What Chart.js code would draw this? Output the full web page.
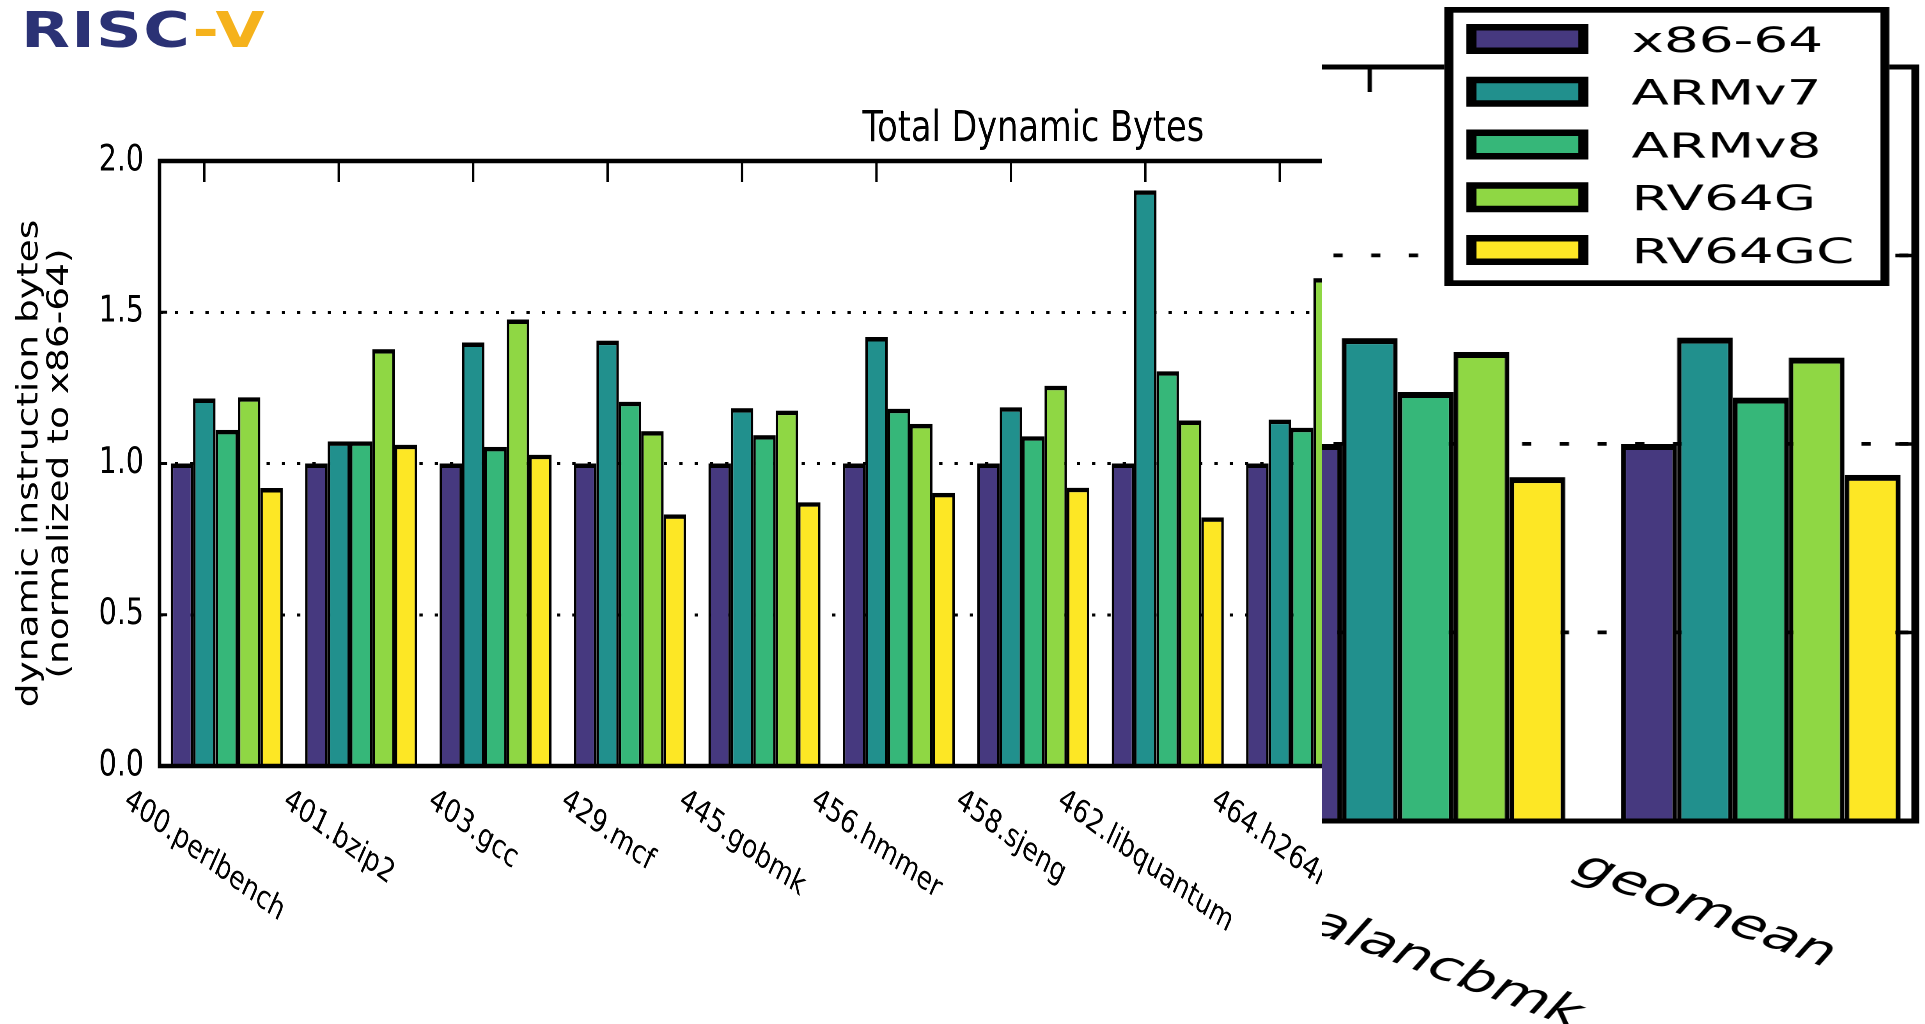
<!DOCTYPE html>
<html>
<head>
<meta charset="utf-8">
<script src="https://cdn.jsdelivr.net/npm/chart.js@4.4.0/dist/chart.umd.min.js"></script>
<style>
  html, body { margin: 0; padding: 0; background: #fff; }
  body { width: 1925px; height: 1024px; position: relative; overflow: hidden; }
  #logo { position: absolute; left: 21px; top: 5px; font: bold 50px "DejaVu Sans"; line-height: 50px;
          white-space: nowrap; transform-origin: 0 0; letter-spacing: 1px; }
  #logo .a { color: #2b3275; }
  #logo .b { color: #f5b21c; }
  #mainWrap { position: absolute; left: 0; top: 0; transform-origin: 0 0; }
  #insetClip { position: absolute; left: 1322px; top: 0; width: 603px; height: 1024px; overflow: hidden; background: #fff; }
  #insetWrap { position: absolute; top: 0; transform-origin: 0 0; }
</style>
</head>
<body>
<div id="mainWrap"><canvas id="mainChart"></canvas></div>
<div id="insetClip"><div id="insetWrap"><canvas id="insetChart"></canvas></div></div>
<div id="logo"><span class="a">RISC</span><span class="b">-V</span></div>

<script>
// data
const categories = ['400.perlbench', '401.bzip2', '403.gcc', '429.mcf', '445.gobmk', '456.hmmer',
  '458.sjeng', '462.libquantum', '464.h264ref', '471.omnetpp', '473.astar', '483.xalancbmk', 'geomean'];
const seriesNames = ['x86-64', 'ARMv7', 'ARMv8', 'RV64G', 'RV64GC'];
const x86    = [1.0, 1.0, 1.0, 1.0, 1.0, 1.0, 1.0, 1.0, 1.0, 1.0, 1.0, 1.0, 1.0];
const armv7  = [1.215, 1.073, 1.400, 1.406, 1.183, 1.418, 1.186, 1.903, 1.145, null, null, 1.281, 1.282];
const armv8  = [1.111, 1.073, 1.055, 1.204, 1.094, 1.181, 1.090, 1.305, 1.118, null, null, 1.138, 1.123];
const rv64g  = [1.219, 1.378, 1.476, 1.107, 1.175, 1.131, 1.257, 1.142, 1.613, null, null, 1.244, 1.229];
const rv64gc = [0.919, 1.062, 1.029, 0.832, 0.872, 0.903, 0.920, 0.822, null, null, null, 0.912, 0.918];
const yTicks = [0, 0.5, 1.0, 1.5, 2.0];
const chartTitle = 'Total Dynamic Bytes';
const yTitle = ['dynamic instruction bytes', '(normalized to x86-64)'];

const series = [x86, armv7, armv8, rv64g, rv64gc];
const colors = ['#46397f', '#21908d', '#36b779', '#8fd744', '#fde725'];

// the slide squeezes the main figure and stretches the zoomed copy
const sxMain = 0.78;
const sxInset = 1.565;

// main figure (un-squeezed px)
const mainLeft = 159.5 / sxMain;
const mainCat = 134.4 / sxMain;
const mainPadRight = 16;
const mainW = Math.ceil(mainLeft + categories.length * mainCat + mainPadRight);

// zoomed copy
const insetMin = 10.5, insetMax = 12.461;
const insetCat = 335 / sxInset;
const insetPadRight = 12;
const insetW = Math.ceil((insetMax - insetMin) * insetCat + insetPadRight);

function makeSets(bw) {
  return seriesNames.map((name, k) => ({
    label: name,
    data: series[k].map((v, i) => ({ x: i, y: v })),
    backgroundColor: colors[k],
    borderColor: '#000',
    borderWidth: bw,
    borderSkipped: 'start',
    barPercentage: 1,
    categoryPercentage: 5 / 6
  }));
}

function rotatedLabels(ctx, x, o) {
  ctx.font = o.labelSize + 'px "DejaVu Sans"';
  ctx.fillStyle = '#000';
  ctx.textAlign = 'center';
  ctx.textBaseline = 'middle';
  const th = o.labelAngle * Math.PI / 180;
  categories.forEach((c, i) => {
    const px = x.getPixelForValue(i - 1 / 6);
    const w = ctx.measureText(c).width;
    const h = o.labelSize * 1.17;
    const bh = w * Math.sin(th) + h * Math.cos(th);
    ctx.save();
    ctx.translate(px, o.labelTop + bh / 2);
    ctx.rotate(th);
    ctx.fillText(c, 0, 0);
    ctx.restore();
  });
}

function decor(o) {
  return {
    id: 'decor',
    afterDraw(chart) {
      const { ctx, chartArea: a, scales: { x, y } } = chart;
      ctx.save();
      ctx.strokeStyle = '#000';
      ctx.lineCap = 'butt';

      // ticks pointing into the axes
      ctx.lineWidth = o.topTickWidth;
      categories.forEach((c, i) => {
        const px = x.getPixelForValue(i - 1 / 6);
        if (px < a.left || px > a.right) return;
        ctx.beginPath();
        ctx.moveTo(px, a.top);
        ctx.lineTo(px, a.top + o.topTickLen);
        ctx.stroke();
      });
      ctx.lineWidth = o.yTickWidth;
      yTicks.slice(1, -1).forEach(v => {
        const py = y.getPixelForValue(v);
        ctx.beginPath();
        ctx.moveTo(a.left, py); ctx.lineTo(a.left + o.yTickLen, py);
        ctx.moveTo(a.right, py); ctx.lineTo(a.right - o.yTickLen, py);
        ctx.stroke();
      });

      ctx.lineWidth = o.frame;
      ctx.strokeRect(a.left, a.top, a.right - a.left, a.bottom - a.top);

      rotatedLabels(ctx, x, o);
      if (o.extra) o.extra(chart);
      ctx.restore();
    }
  };
}

function baseOptions(o) {
  return {
    responsive: false,
    devicePixelRatio: 2,
    animation: false,
    events: [],
    layout: { padding: o.padding },
    plugins: { legend: { display: false }, tooltip: { enabled: false }, title: { display: false } },
    scales: {
      x: {
        type: 'linear', min: o.xMin, max: o.xMax, offset: false, bounds: 'data', grace: 0,
        afterBuildTicks: s => {
          s.ticks = categories.map((c, i) => ({ value: i }));
          s.min = o.xMin;
          s.max = o.xMax;
        },
        ticks: { display: false },
        grid: { display: false },
        border: { display: false },
        afterFit: s => { s.height = 0; }
      },
      y: {
        min: 0, max: 2,
        afterBuildTicks: s => { s.ticks = yTicks.map(v => ({ value: v })); s.min = 0; s.max = 2; },
        ticks: {
          display: o.yLabels,
          callback: v => v.toFixed(1),
          font: { family: 'DejaVu Sans', size: 36.5 },
          color: '#000',
          padding: 20
        },
        grid: { color: '#000', lineWidth: o.gridWidth, drawTicks: false },
        border: { display: false, dash: o.dash },
        title: o.yTitle,
        afterFit: s => { s.width = o.yWidth; }
      }
    }
  };
}

// main chart
const mainCanvas = document.getElementById('mainChart');
mainCanvas.width = mainW;
mainCanvas.height = 1024;
document.getElementById('mainWrap').style.transform = `scaleX(${sxMain})`;

new Chart(mainCanvas, {
  type: 'bar',
  data: { datasets: makeSets({ top: 4.5, left: 3.2, right: 3.2, bottom: 0 }) },
  options: baseOptions({
    padding: { top: 161, bottom: 258, left: 0, right: mainPadRight },
    xMin: -0.5, xMax: categories.length - 0.5,
    yLabels: true, yWidth: mainLeft,
    gridWidth: 3, dash: [4.2, 15.4],
    yTitle: {
      display: true, text: yTitle, color: '#000',
      font: { family: 'DejaVu Sans', size: 37.5, lineHeight: 1.04 },
      padding: { top: 19, bottom: 0 }
    }
  }),
  plugins: [decor({
    topTickLen: 21, topTickWidth: 3, yTickLen: 10, yTickWidth: 3, frame: 4.5,
    labelSize: 32, labelAngle: 30, labelTop: 782,
    extra(chart) {
      const { ctx, chartArea: a } = chart;
      ctx.font = '43px "DejaVu Sans"';
      ctx.textAlign = 'center';
      ctx.textBaseline = 'alphabetic';
      ctx.fillText(chartTitle, (a.left + a.right) / 2, 141);
    }
  })]
});

// zoomed copy with the legend
const insetCanvas = document.getElementById('insetChart');
insetCanvas.width = insetW;
insetCanvas.height = 1024;
const insetWrap = document.getElementById('insetWrap');
insetWrap.style.left = (1258.1 - 1322) + 'px';
insetWrap.style.transform = `scaleX(${sxInset})`;

new Chart(insetCanvas, {
  type: 'bar',
  data: { datasets: makeSets({ top: 6, left: 3, right: 3, bottom: 0 }) },
  options: baseOptions({
    padding: { top: 67, bottom: 203, left: 0, right: insetPadRight },
    xMin: insetMin, xMax: insetMax,
    yLabels: false, yWidth: 0,
    gridWidth: 3.7, dash: [5.9, 18.2],
    yTitle: { display: false }
  }),
  plugins: [decor({
    topTickLen: 25, topTickWidth: 2.8, yTickLen: 12.8, yTickWidth: 3.5, frame: 5,
    labelSize: 40, labelAngle: 30, labelTop: 844,
    extra(chart) {
      const { ctx, chartArea: a } = chart;
      const right = a.right - 16.6, left = right - 284.3;
      const top = 7, bottom = 286, lw = 5.7;
      ctx.fillStyle = '#fff';
      ctx.fillRect(left, top, right - left, bottom - top);
      ctx.lineWidth = lw;
      ctx.strokeStyle = '#000';
      ctx.strokeRect(left + lw / 2, top + lw / 2, right - left - lw, bottom - top - lw);
      ctx.font = '35px "DejaVu Sans"';
      ctx.textAlign = 'left';
      ctx.textBaseline = 'alphabetic';
      seriesNames.forEach((name, k) => {
        const cy = 39 + k * 52.75;
        const sw = 6.5, sl = left + 14, swW = 78, swH = 30;
        ctx.fillStyle = colors[k];
        ctx.fillRect(sl + sw / 2, cy - swH / 2 + sw / 2, swW - sw, swH - sw);
        ctx.lineWidth = sw;
        ctx.strokeRect(sl + sw / 2, cy - swH / 2 + sw / 2, swW - sw, swH - sw);
        ctx.fillStyle = '#000';
        ctx.fillText(name, left + 119.5, cy + 35 * 0.365);
      });
    }
  })]
});

// logo width
const logo = document.getElementById('logo');
logo.style.transform = `scaleX(${245 / logo.getBoundingClientRect().width})`;
</script>
</body>
</html>
